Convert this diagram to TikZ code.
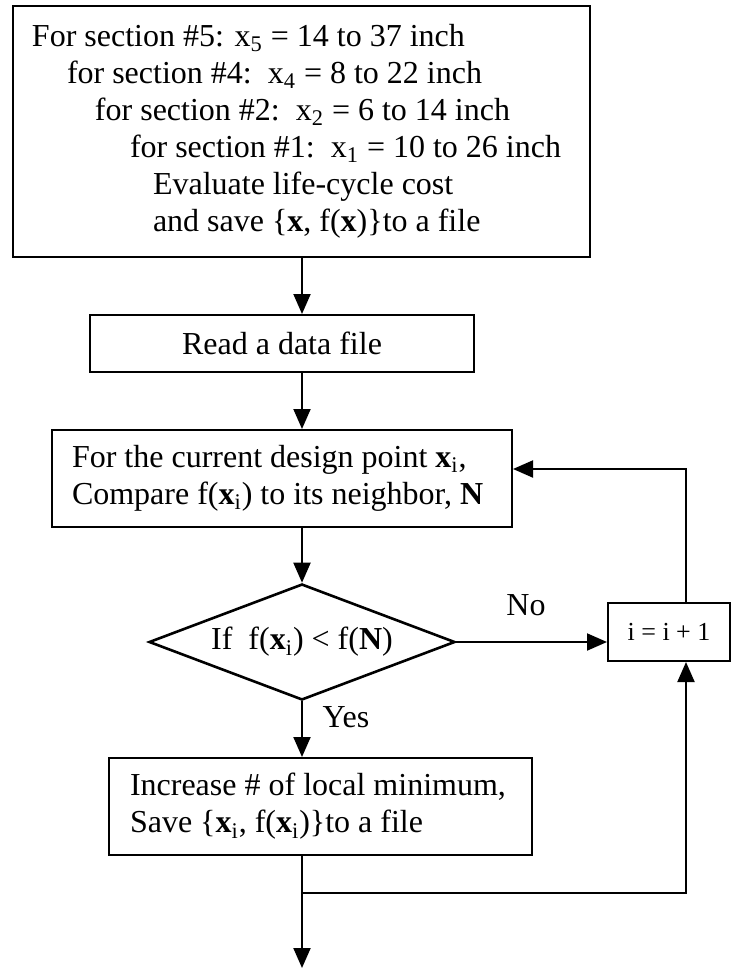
\documentclass[tikz,border=0pt]{standalone}
\usepackage{fontspec}
\setmainfont{Liberation Serif}
\usepackage{tikz}
\usetikzlibrary{shapes.geometric, arrows.meta, positioning, calc}
\newcommand{\bodyfont}{\fontsize{16}{18.5}\selectfont}
\newcommand{\smallbody}{\fontsize{13}{15}\selectfont}
\newcommand{\vx}{\textbf{x}}
\tikzset{
  box/.style={rectangle, draw, line width=1pt, font=\bodyfont},
  leftbox/.style={box, align=flush left, inner xsep=10pt, inner ysep=0pt},
  centerbox/.style={box, align=center, inner sep=0pt},
  decision/.style={diamond, draw, line width=1.3pt, aspect=2.64,
    inner sep=0pt, minimum width=153pt, minimum height=58pt},
  arrow/.style={-{Triangle[length=10pt, width=8.5pt]}, line width=1pt},
  flowlabel/.style={font=\bodyfont, inner sep=0pt},
}

\begin{document}
\begin{tikzpicture}[x=0.5pt, y=-0.5pt, font=\bodyfont]
  \useasboundingbox (0,0) rectangle (731,968);

  % nested sweep over the sections
  \node[leftbox, inner xsep=9.5pt, text width=269.5pt, minimum height=125.5pt]
    (sweep) at (301.5,131.5) {%
    For section \#5: x\textsubscript{5} = 14 to 37 inch\\
    \hspace*{17.5pt}for section \#4:\ \ x\textsubscript{4} = 8 to 22 inch\\
    \hspace*{31.5pt}for section \#2:\ \ x\textsubscript{2} = 6 to 14 inch\\
    \hspace*{49pt}for section \#1:\ \ x\textsubscript{1} = 10 to 26 inch\\
    \hspace*{60.5pt}Evaluate life-cycle cost\\
    \hspace*{60.5pt}and save \{\vx, f(\vx)\}to a file};
  \node[centerbox, minimum width=192pt, minimum height=28.5pt]
    (rd) at (282,343.5) {Read a data file};
  \node[leftbox, text width=210pt, minimum height=48.5pt]
    (cmp) at (282,478.5) {For the current design point \vx\textsubscript{i},\\
    Compare f(\vx\textsubscript{i}) to its neighbor, \textbf{N}};
  \node[decision] (dec) at (302,642)
    {If\ \ f(\vx\textsubscript{i}) < f(\textbf{N})};
  \node[leftbox, inner xsep=10.5pt, text width=190.5pt, minimum height=48.5pt]
    (keep) at (320.5,806.5) {Increase \# of local minimum,\\
    Save \{\vx\textsubscript{i}, f(\vx\textsubscript{i})\}to a file};
  \node[centerbox, font=\smallbody, minimum width=61pt, minimum height=29pt]
    (inc) at (669,632) {i = i + 1};

  \node[flowlabel] (no) at (526,605) {No};
  \node[flowlabel] (yes) at (346,717) {Yes};

  \coordinate (loop) at (686,469);
  \coordinate (split) at (302,893);
  \coordinate (exit) at (302,968);

  % main column
  \draw[arrow] (sweep.south -| split) -- (rd.north -| split);
  \draw[arrow] (rd.south -| split) -- (cmp.north -| split);
  \draw[arrow] (cmp.south -| split) -- (dec.north);
  \draw[arrow] (dec.south) -- (keep.north -| split);
  \draw[arrow] (keep.south -| split) -- (exit);

  % loop back
  \draw[arrow] (dec.east) -- (dec.east -| inc.west);
  \draw[arrow] (inc.north -| loop) -- (loop) -- (loop -| cmp.east);
  \draw[arrow] (split) -| (inc.south -| loop);
\end{tikzpicture}
\end{document}
